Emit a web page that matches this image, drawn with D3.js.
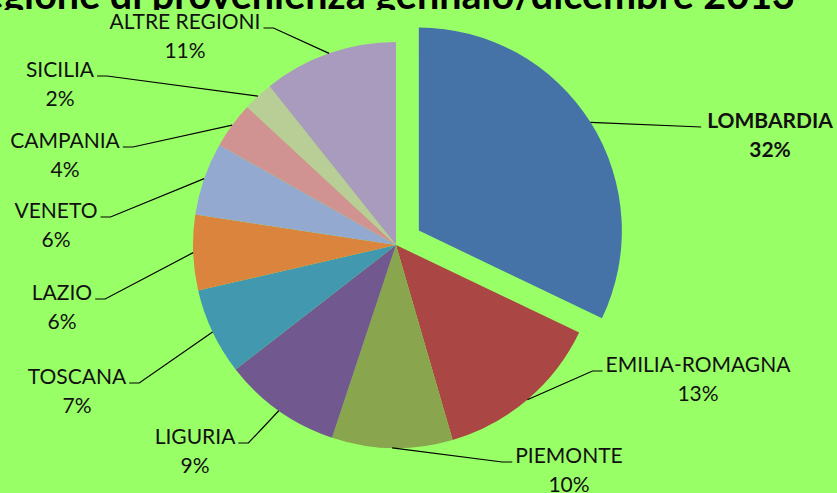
<!DOCTYPE html>
<html>
<head>
<meta charset="utf-8">
<script src="https://cdn.jsdelivr.net/npm/d3@7"></script>
<style>
    body { margin: 0; background: #99FF66; overflow: hidden; }
    svg { display: block; }
    .label { font-family: Lato, "Open Sans", sans-serif; font-size: 21px; fill: #111; }
    .title { font-family: Lato, "Open Sans", sans-serif; font-weight: bold; font-size: 39.5px; fill: #000; }
</style>
</head>
<body>
<script>
(function(){

    //chart data
    var regions = ["LOMBARDIA", "EMILIA-ROMAGNA", "PIEMONTE", "LIGURIA", "TOSCANA",
        "LAZIO", "VENETO", "CAMPANIA", "SICILIA", "ALTRE REGIONI"];
    var shares = [32.1, 13.4, 9.6, 9.4, 6.9, 6.0, 5.8, 3.7, 2.4, 10.7]; //percent of total
    var pctLabels = ["32%", "13%", "10%", "9%", "7%", "6%", "6%", "4%", "2%", "11%"];
    var sliceColors = ["#4572A7", "#AA4643", "#89A54E", "#71588F", "#4198AF",
        "#DB843D", "#93A9CF", "#D19392", "#B9CD96", "#A99BBD"];
    var titleText = "Turisti per regione di provenienza gennaio/dicembre 2013";

    //label layout: text centre x, baseline y of the name line, side of the leader
    var labelLayout = [
        [770, 128, "right"], [698, 372, "right"], [569, 463, "right"],
        [195, 444, "left"], [77, 384, "left"], [62, 300, "left"],
        [56, 218, "left"], [65, 148, "left"], [60, 77, "left"], [185, 29, "left"]
    ];

    var width = 837,
        height = 493,
        cx = 396,
        cy = 245,
        radius = 203,
        explode = 27;

    var svg = d3.select("body")
        .append("svg")
        .attr("width", width)
        .attr("height", height);

    //title, partly hidden under the plot area like in the source
    svg.append("text")
        .attr("class", "title")
        .attr("x", 795)
        .attr("y", 9)
        .attr("text-anchor", "end")
        .text(titleText);

    svg.append("rect")
        .attr("x", 0)
        .attr("y", 10)
        .attr("width", width)
        .attr("height", height - 10)
        .style("fill", "#99FF66");

    var pie = d3.pie()
        .sort(null)
        .value(function(d){ return d; });

    var arcs = pie(shares);

    var arc = d3.arc()
        .innerRadius(0)
        .outerRadius(radius);

    //offset of a slice, only the first one is pulled out
    function offset(d, i){
        if (i !== 0) return [0, 0];
        var a = (d.startAngle + d.endAngle) / 2;
        return [Math.sin(a) * explode, -Math.cos(a) * explode];
    }

    var g = svg.append("g")
        .attr("transform", "translate(" + cx + "," + cy + ")");

    g.selectAll(".slice")
        .data(arcs)
        .enter()
        .append("path")
        .attr("class", "slice")
        .attr("transform", function(d, i){
            var o = offset(d, i);
            return "translate(" + o[0] + "," + o[1] + ")";
        })
        .attr("d", arc)
        .style("fill", function(d, i){ return sliceColors[i]; });

    //labels
    var labels = svg.selectAll(".lbl")
        .data(arcs)
        .enter()
        .append("g")
        .attr("class", "lbl");

    labels.append("text")
        .attr("class", "label")
        .attr("x", function(d, i){ return labelLayout[i][0]; })
        .attr("y", function(d, i){ return labelLayout[i][1]; })
        .attr("text-anchor", "middle")
        .style("font-weight", function(d, i){ return i === 0 ? "bold" : "normal"; })
        .text(function(d, i){ return regions[i]; });

    labels.append("text")
        .attr("class", "label")
        .attr("x", function(d, i){ return labelLayout[i][0]; })
        .attr("y", function(d, i){ return labelLayout[i][1] + 29; })
        .attr("text-anchor", "middle")
        .style("font-weight", function(d, i){ return i === 0 ? "bold" : "normal"; })
        .text(function(d, i){ return pctLabels[i]; });

    //leader lines from slice edge to label
    labels.insert("path", "text")
        .attr("d", function(d, i){
            var a = (d.startAngle + d.endAngle) / 2;
            var o = offset(d, i);
            var x0 = cx + o[0] + Math.sin(a) * radius,
                y0 = cy + o[1] - Math.cos(a) * radius;
            var w = this.parentNode.querySelector("text").getComputedTextLength();
            var lay = labelLayout[i];
            var y1 = lay[1] - 1;
            if (i === 0){
                return "M" + x0 + "," + y0 + "L" + (lay[0] - w / 2 - 6) + "," + y1;
            }
            if (lay[2] === "left"){
                var xe = lay[0] + w / 2 + 3;
                return "M" + x0 + "," + y0 + "L" + (xe + 10) + "," + y1 + "L" + xe + "," + y1;
            }
            var xs = lay[0] - w / 2 - 3;
            return "M" + x0 + "," + y0 + "L" + (xs - 10) + "," + y1 + "L" + xs + "," + y1;
        })
        .style("fill", "none")
        .style("stroke", "#000")
        .style("stroke-width", 1.2);

})();
</script>
</body>
</html>
